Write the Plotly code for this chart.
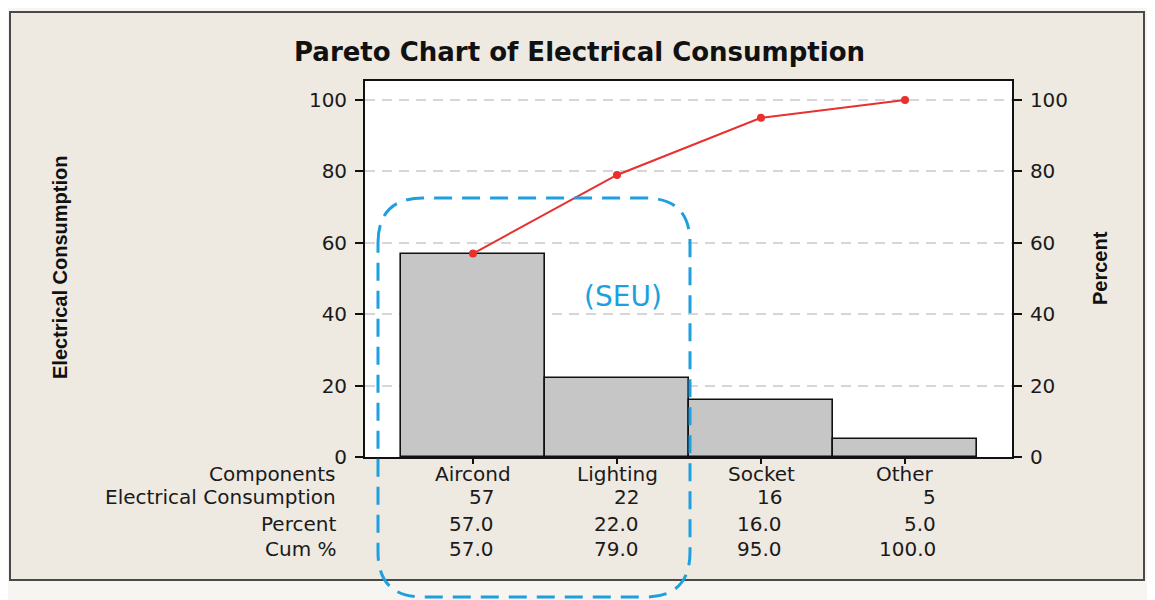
import plotly.graph_objects as go

components = ["Aircond", "Lighting", "Socket", "Other"]
consumption = [57, 22, 16, 5]
percent = [57.0, 22.0, 16.0, 5.0]
cum_pct = [57.0, 79.0, 95.0, 100.0]
y_ticks = [0, 20, 40, 60, 80, 100]

OFF = 8  # page body margin
W, H = 1155 - OFF, 600 - OFF
L, R, T, B = 365, 1012, 81, 457  # plot area in reference pixels
pw, ph = R - L, B - T
C0, BW = 473, 144  # first bar centre and bar width in reference pixels

def px(x):
    return (x - L) / pw

def py(y):
    return (B - y) / ph

xs = list(range(len(components)))
BLUE = "#1E9FDF"
TXT = "#1a1a1a"
SANS = "DejaVu Sans, Verdana, sans-serif"
tfont = dict(family=SANS, size=20, color=TXT)

fig = go.Figure()
fig.add_trace(go.Bar(
    x=xs, y=consumption, width=1,
    marker=dict(color="#C6C6C6", line=dict(color="#111", width=1.6)),
    showlegend=False, hoverinfo="skip",
))
fig.add_trace(go.Scatter(
    x=xs, y=cum_pct, yaxis="y2", mode="lines+markers",
    line=dict(color="#E8302E", width=2), marker=dict(color="#E8302E", size=8),
    showlegend=False, hoverinfo="skip",
))

# value 0 at pixel 457, value 100 at pixel 100
ymax = 100 * (B - T) / (B - 100)

axis_common = dict(
    range=[0, ymax], tickvals=y_ticks, ticks="outside", ticklen=8, tickwidth=1.5,
    tickcolor="#111", showline=True, linecolor="#111", linewidth=1.8,
    tickfont=tfont, zeroline=False, fixedrange=True, ticklabelstandoff=4,
)

fig.update_layout(
    width=W, height=H,
    margin=dict(l=L - OFF, r=1155 - R, t=T - OFF, b=600 - B),
    paper_bgcolor="#F7F5F2", plot_bgcolor="white",
    bargap=0,
    xaxis=dict(range=[(L - C0) / BW, (R - C0) / BW], tickvals=xs, ticktext=["" for _ in xs],
               ticks="outside", ticklen=5, tickwidth=1.5, tickcolor="#111",
               showline=True, linecolor="#111", linewidth=1.8, mirror=True,
               showgrid=False, zeroline=False, fixedrange=True),
    yaxis=dict(**axis_common, showgrid=True, gridcolor="#D6D6D6", gridwidth=1.5,
               griddash="10px,7px", mirror=False),
    yaxis2=dict(**axis_common, overlaying="y", side="right", showgrid=False),
)

shapes = [
    dict(type="rect", xref="paper", yref="paper", layer="below",
         x0=px(10), x1=px(1144), y0=py(580), y1=py(12),
         fillcolor="#EEE9E1", line=dict(color="#4A4A4A", width=2)),
    dict(type="rect", xref="paper", yref="paper", layer="below",
         x0=0, x1=1, y0=0, y1=1, fillcolor="white", line=dict(width=0)),
]

# blue dashed rounded box (SEU)
bl, br, bt, bb, rad = 378, 690, 198, 597, 45
path = (
    f"M {px(bl)},{py(bt + rad)} "
    f"Q {px(bl)},{py(bt)} {px(bl + rad)},{py(bt)} "
    f"L {px(br - rad)},{py(bt)} "
    f"Q {px(br)},{py(bt)} {px(br)},{py(bt + rad)} "
    f"L {px(br)},{py(bb - rad)} "
    f"Q {px(br)},{py(bb)} {px(br - rad)},{py(bb)} "
    f"L {px(bl + rad)},{py(bb)} "
    f"Q {px(bl)},{py(bb)} {px(bl)},{py(bb - rad)} Z"
)
shapes.append(dict(type="path", path=path, xref="paper", yref="paper", layer="above",
                   line=dict(color=BLUE, width=3, dash="18px,10px")))
fig.update_layout(shapes=shapes)

ann = []
ann.append(dict(text="<b>Pareto Chart of Electrical Consumption</b>", xref="paper", yref="paper",
                x=px(579), y=py(52), showarrow=False, xanchor="center", yanchor="middle",
                font=dict(family=SANS, size=26, color="#111")))
NARROW = "Liberation Sans Narrow, Liberation Sans, Arial"
ann.append(dict(text="<b>Electrical Consumption</b>", xref="paper", yref="paper",
                x=px(60), y=py(268), textangle=-90, showarrow=False,
                xanchor="center", yanchor="middle",
                font=dict(family=NARROW, size=20, color="#111")))
ann.append(dict(text="<b>Percent</b>", xref="paper", yref="paper",
                x=px(1100), y=py(268), textangle=-90, showarrow=False,
                xanchor="center", yanchor="middle",
                font=dict(family=NARROW, size=20, color="#111")))
ann.append(dict(text="(SEU)", xref="paper", yref="paper", x=px(623), y=py(296),
                xanchor="center", yanchor="middle",
                showarrow=False, font=dict(family=SANS, size=28, color=BLUE)))

row_labels = ["Components", "Electrical Consumption", "Percent", "Cum %"]
row_py = [474, 497, 524, 549]
row_font = dict(family=SANS, size=20, color=TXT)
for lab, ry in zip(row_labels, row_py):
    ann.append(dict(text=lab, xref="paper", yref="paper", x=px(338), y=py(ry),
                    xanchor="right", yanchor="middle", showarrow=False, font=row_font))

num_off = [0.16, 0.17, 0.16, 0.23]
for i, name in enumerate(components):
    ann.append(dict(text=name, xref="x", yref="paper", x=i, y=py(row_py[0]),
                    xanchor="center", yanchor="middle", showarrow=False, font=row_font))
    vals = [str(consumption[i]), f"{percent[i]:.1f}", f"{cum_pct[i]:.1f}"]
    for v, ry in zip(vals, row_py[1:]):
        ann.append(dict(text=v, xref="x", yref="paper", x=i + num_off[i], y=py(ry),
                        xanchor="right", yanchor="middle", showarrow=False, font=row_font))

fig.update_layout(annotations=ann)
fig.write_html("out.html")
